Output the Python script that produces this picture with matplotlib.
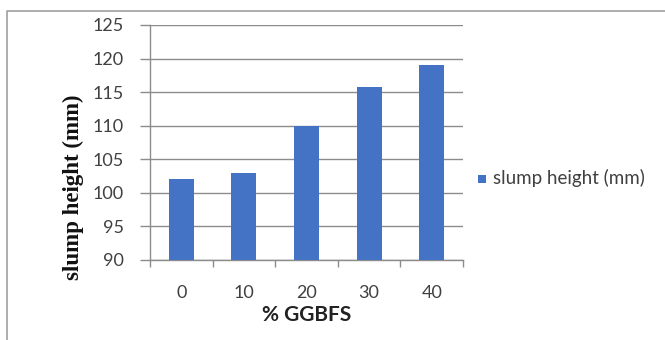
import matplotlib
matplotlib.use("Agg")
import matplotlib.pyplot as plt
from matplotlib.lines import Line2D
from matplotlib.patches import Rectangle
import numpy as np

categories = ["0", "10", "20", "30", "40"]
slump_height = [102, 103, 110, 115.8, 119]
y_ticks = [90, 95, 100, 105, 110, 115, 120, 125]

bar_color = "#4472C4"
grid_color = "#8c8c8c"
text_color = "#404040"

fig = plt.figure(figsize=(6.65, 3.4), dpi=100)
fig.patch.set_facecolor("white")

ax = fig.add_axes([150 / 665, 1 - 260 / 340, (463 - 150) / 665, (260 - 25) / 340])

x = np.arange(len(categories))
ax.bar(x, slump_height, width=0.4, color=bar_color, zorder=3,
       label="slump height (mm)")

ax.set_xlim(-0.5, len(categories) - 0.5)
ax.set_ylim(y_ticks[0], y_ticks[-1])
ax.set_yticks(y_ticks)
ax.set_yticklabels([str(v) for v in y_ticks], fontfamily="Lato", fontsize=13,
                   color=text_color)
ax.set_xticks(x)
ax.set_xticklabels(categories, fontfamily="Lato", fontsize=13, color=text_color)

# category boundary ticks on the x axis
ax.set_xticks(np.arange(-0.5, len(categories)), minor=True)
ax.tick_params(axis="x", which="major", length=0, pad=18)
ax.tick_params(axis="x", which="minor", length=5, color=grid_color, width=1)
ax.tick_params(axis="y", length=7, color=grid_color, width=1, pad=12)

for v in y_ticks:
    ax.axhline(v, color=grid_color, linewidth=1, zorder=1)

for side in ["top", "right"]:
    ax.spines[side].set_visible(False)
for side in ["left", "bottom"]:
    ax.spines[side].set_color(grid_color)
    ax.spines[side].set_linewidth(1)

ax.set_xlabel("% GGBFS", fontfamily="Lato", fontweight="bold", fontsize=15,
              color="#222222", labelpad=3)

# vertical axis title, centred on the chart area
fig.text(73 / 665, 1 - 187 / 340, "slump height (mm)",
         fontfamily="Liberation Serif", fontweight="bold", fontsize=16.5,
         color="#111111", rotation=90, ha="center", va="center")

# legend
fig.patches.append(Rectangle((478 / 665, 1 - 183 / 340), 8 / 665, 8 / 340,
                             transform=fig.transFigure, facecolor=bar_color,
                             edgecolor="none"))
fig.text(493 / 665, 1 - 178 / 340, "slump height (mm)", fontfamily="Lato",
         fontsize=13.5, color=text_color, va="center", ha="left")

# chart area border (left and top edges)
fig.add_artist(Line2D([7 / 665, 7 / 665, 1.0], [0.0, 1 - 11 / 340, 1 - 11 / 340],
                      transform=fig.transFigure, color="#a0a0a0", linewidth=1.2))

fig.savefig("out.png", dpi=100, facecolor="white")
